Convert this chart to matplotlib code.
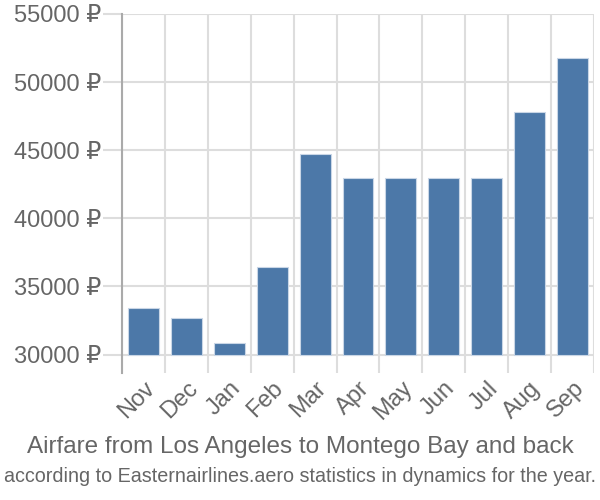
import numpy as np
import matplotlib
matplotlib.use("Agg")
import matplotlib.pyplot as plt

# Data
months = ['Nov', 'Dec', 'Jan', 'Feb', 'Mar', 'Apr', 'May', 'Jun', 'Jul', 'Aug', 'Sep']
prices = [33420, 32690, 30820, 36440, 44750, 42940, 42940, 42940, 42940, 47790, 51800]
y_ticks = [30000, 35000, 40000, 45000, 50000, 55000]
base = 30000

title = 'Airfare from Los Angeles to Montego Bay and back'
subtitle = 'according to Easternairlines.aero statistics in dynamics for the year.'

plt.rcParams['font.family'] = ['Liberation Sans', 'DejaVu Sans']
TEXT = '#666666'
GRID = '#dddddd'

fig = plt.figure(figsize=(6, 5), dpi=100)
ax = fig.add_axes([0.2033, 0.254, 0.99 - 0.2033, 0.972 - 0.254])

x = np.arange(len(months))
heights = [p - base for p in prices]
ax.bar(x, heights, bottom=base, width=0.72, color='#4c78a8',
       edgecolor='#c9d6e6', linewidth=0.8, zorder=3)

ax.set_xlim(-0.5, len(months) - 0.5)
ax.set_ylim(28650, 55000)

# y axis
ax.set_yticks(y_ticks)
ax.set_yticklabels([f'{v} ₽' for v in y_ticks], color=TEXT, fontsize=17)
ax.tick_params(axis='y', length=14, width=1.5, color=GRID, pad=1)
ax.yaxis.grid(True, color=GRID, linewidth=1.5, zorder=0)

# x axis: grid on category boundaries, labels at centers
ax.set_xticks(x)
ax.set_xticklabels(months, rotation=45, ha='right', rotation_mode='anchor',
                   color=TEXT, fontsize=17)
ax.tick_params(axis='x', length=0, pad=3)
ax.set_xticks(np.arange(len(months) + 1) - 0.5, minor=True)
ax.tick_params(axis='x', which='minor', length=0)
ax.xaxis.grid(True, which='minor', color=GRID, linewidth=1.5, zorder=0)

for side in ['top', 'right', 'bottom']:
    ax.spines[side].set_visible(False)
ax.spines['left'].set_color('#aaaaaa')
ax.spines['left'].set_linewidth(1.5)

fig.text(0.5, 0.106, title, ha='center', va='center', color=TEXT, fontsize=17.5)
fig.text(0.5, 0.046, subtitle, ha='center', va='center', color=TEXT, fontsize=14.2)

fig.savefig('out.png', dpi=100)
